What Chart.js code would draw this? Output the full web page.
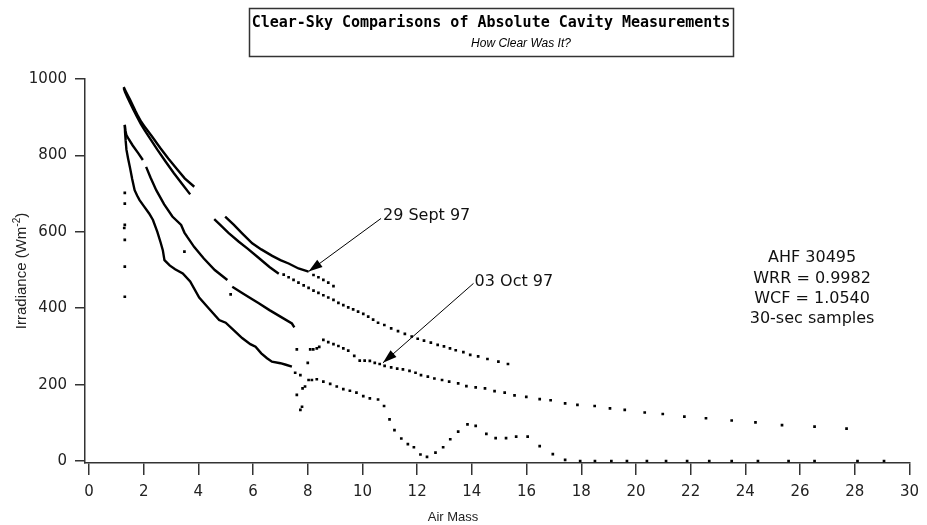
<!DOCTYPE html>
<html><head><meta charset="utf-8">
<script src="https://cdn.jsdelivr.net/npm/chart.js@4.4.0/dist/chart.umd.min.js"></script>
<style>html,body{margin:0;padding:0;background:#fff}#wrap{width:927px;height:525px;position:relative}</style>
</head><body><div id="wrap"><canvas id="c" width="927" height="525"></canvas></div>
<script>
// ---------- tick values ----------
const xTickValues = [0,2,4,6,8,10,12,14,16,18,20,22,24,26,28,30];
const yTickValues = [0,200,400,600,800,1000];

// ---------- 29 Sept 97, run A (upper line) ----------
const sep29A_lineX = [1.27,1.33,1.4,1.5,1.6,1.7,1.8,1.91,2.03,2.3,2.6,2.9,3.2,3.5,3.85, 3.85, 4.98,5.3,5.6,5.97,6.3,6.7,7.0,7.3,7.66,8.03];
const sep29A_lineY = [979,970,960,946,931,916,902,888,876,850,820,792,766,740,718, null, 640,618,596,570,554,537,526,517,504,496];
const sep29A_dotX = [8.21,8.39,8.57,8.75,8.94];
const sep29A_dotY = [487,481,474,467,458];

// ---------- 29 Sept 97, run B ----------
const sep29B_lineX = [1.27,1.32,1.4,1.5,1.62,1.75,1.9,2.05,2.2,2.5,2.8,3.1,3.4,3.7, 3.7, 4.58,4.8,5.1,5.48,5.8,6.2,6.6,6.94];
const sep29B_lineY = [976,966,953,938,920,902,882,864,848,815,784,754,726,698, null, 633,618,597,574,556,532,508,490];
const sep29B_dotX = [7.12,7.3,7.48,7.66,7.85,8.03,8.21,8.39,8.57,8.75,8.94,9.12,9.3,9.48,9.66,9.84,10.03,10.21,10.39,10.57,10.8,11.05,11.3,11.55,11.8,12.02,12.25,12.5,12.75,12.98,13.2,13.41,13.69,13.94,14.23,14.57,14.97,15.32];
const sep29B_dotY = [488,481,474,467,460,453,446,440,434,428,422,414,408,402,397,391,385,378,370,362,356,347,340,333,326,320,315,310,304,300,295,290,285,278,274,267,260,254];

// ---------- 03 Oct 97, run A (upper of the pair) ----------
const oct03A_lineX = [1.31,1.33,1.37,1.45,1.6,1.8,1.97, 1.97, 2.09,2.25,2.46,2.75,3.05,3.37,3.49,3.6,3.85,4.2,4.6,5.06, 5.06, 5.24,5.6,6.0,6.21,6.6,7.0,7.42,7.51];
const oct03A_lineY = [880,866,853,843,826,806,788, null, 770,742,709,672,640,618,598,586,560,530,500,474, null, 456,440,422,413,395,378,360,350];
const oct03A_dotX = [7.6,8.0,8.09,8.2,8.33,8.42,8.57,8.75,8.94,9.12,9.3,9.48,9.7,9.9,10.08,10.27,10.45,10.63,10.81,11.05,11.27,11.48,11.72,11.94,12.14,12.39,12.63,12.91,13.17,13.5,13.8,14.14,14.48,14.83,15.2,15.56,15.99,16.48,16.88,17.41,17.86,18.49,19.05,19.59,20.32,20.98,21.77,22.56,23.5,24.37,25.34,26.53,27.7];
const oct03A_dotY = [292,257,292,292,295,299,317,311,306,301,295,289,275,263,263,262,257,254,249,245,242,240,236,231,225,221,216,212,208,203,196,193,190,183,179,172,168,162,159,151,147,144,138,134,127,123,116,112,106,101,94,90,85];

// ---------- 03 Oct 97, run B (lower of the pair) ----------
const oct03B_lineX = [1.31,1.32,1.34,1.37,1.43,1.5,1.58,1.67,1.76,1.85,2.0,2.2,2.34,2.5,2.62,2.7,2.76,2.95,3.15,3.43,3.7,4.03,4.4,4.76,5.0,5.3,5.6,5.9,6.09,6.3,6.51,6.69,7.0,7.2,7.42];
const oct03B_lineY = [880,860,840,815,792,768,738,709,695,683,668,648,631,600,572,552,526,512,502,491,470,428,398,369,362,342,322,306,299,282,269,260,256,252,247];
const oct03B_dotX = [7.54,7.6,7.73,7.73,7.79,7.81,7.9,8.03,8.15,8.33,8.57,8.82,9.06,9.3,9.54,9.78,10.03,10.27,10.57,10.79,10.99,11.17,11.42,11.66,11.88,12.12,12.36,12.67,12.95,13.21,13.5,13.84,14.14,14.53,14.87,15.25,15.62,16.04,16.48,16.96,17.41,17.96,18.5,19.1,19.67,20.4,21.1,21.87,22.68,23.5,24.46,25.58,26.53,28.1,29.07];
const oct03B_dotY = [231,173,225,134,142,190,195,212,212,214,208,202,195,188,184,179,170,164,161,144,109,81,59,44,36,17,11,22,36,57,77,96,92,71,60,60,64,64,39,18,3,0,0,0,0,0,0,0,0,0,0,0,0,0,0];

// ---------- stray samples ----------
const strayX = [1.31,1.31,1.31,1.29,1.31,1.31,1.31,3.49,5.18];
const strayY = [702,674,618,610,579,509,430,548,436];

// ---------- text ----------
const titleMain = 'Clear-Sky Comparisons of Absolute Cavity Measurements';
const titleSub = 'How Clear Was It?';
const xAxisTitle = 'Air Mass';
const yAxisTitle = 'Irradiance (Wm';
const yAxisTitleSup = '-2';
const infoLines = ['AHF 30495','WRR = 0.9982','WCF = 1.0540','30-sec samples'];
const labelSep = '29 Sept 97';
const labelOct = '03 Oct 97';

function pts(xs, ys){ return xs.map((x,i)=>({x:x, y:ys[i]})); }
function lineDs(xs, ys){ return {data:pts(xs,ys), showLine:true, spanGaps:false, borderColor:'#000', borderWidth:2.4, pointRadius:0, tension:0}; }
function dotDs(xs, ys){ return {data:pts(xs,ys), showLine:false, pointStyle:'rect', pointRadius:1.9, pointBorderWidth:0, backgroundColor:'#000', borderColor:'#000'}; }

const annot = {
  id:'annot',
  afterDatasetsDraw(chart){
    const c = chart.ctx, xs = chart.scales.x, ys = chart.scales.y;
    const X = v=>xs.getPixelForValue(v), Y = v=>ys.getPixelForValue(v);
    c.save();
    // title box
    c.strokeStyle = '#333'; c.lineWidth = 1.5;
    c.strokeRect(249.5, 8.5, 484, 48);
    c.fillStyle = '#000'; c.textAlign = 'center'; c.textBaseline = 'middle';
    c.font = 'bold 15px "DejaVu Sans Mono"';
    c.fillText(titleMain, 491, 23);
    c.font = 'italic 12px "Liberation Sans"';
    c.fillText(titleSub, 521, 44);
    // arrows
    function arrow(x1,y1,x2,y2){
      c.strokeStyle = '#000'; c.lineWidth = 1;
      c.beginPath(); c.moveTo(x1,y1); c.lineTo(x2,y2); c.stroke();
      const a = Math.atan2(y2-y1, x2-x1), L = 14, W = 4.5;
      c.beginPath(); c.moveTo(x2,y2);
      c.lineTo(x2 - L*Math.cos(a) + W*Math.sin(a), y2 - L*Math.sin(a) - W*Math.cos(a));
      c.lineTo(x2 - L*Math.cos(a) - W*Math.sin(a), y2 - L*Math.sin(a) + W*Math.cos(a));
      c.closePath(); c.fill();
    }
    arrow(X(10.68), Y(635), X(8.03), Y(496));
    arrow(X(14.06), Y(465), X(10.75), Y(257));
    c.font = '16px "DejaVu Sans"'; c.textAlign = 'left'; c.fillStyle = '#111';
    c.fillText(labelSep, X(10.75), Y(642));
    c.fillText(labelOct, X(14.1), Y(468));
    // info block
    c.textAlign = 'center'; c.font = '16px "DejaVu Sans"';
    const iy = [531,476,424,372];
    infoLines.forEach((t,i)=>c.fillText(t, X(26.44), Y(iy[i])));
    // axis titles
    c.fillStyle = '#222';
    c.font = '13px "Liberation Sans"';
    c.fillText(xAxisTitle, X(13.31), 517);
    c.save();
    c.translate(22, (chart.chartArea.top + chart.chartArea.bottom)/2);
    c.rotate(-Math.PI/2);
    c.textAlign = 'left';
    c.font = '15px "Liberation Sans"';
    const w1 = c.measureText(yAxisTitle).width;
    c.font = '10px "Liberation Sans"';
    const w2 = c.measureText(yAxisTitleSup).width;
    c.font = '15px "Liberation Sans"';
    const w3 = c.measureText(')').width;
    const start = -(w1+w2+w3)/2;
    c.fillText(yAxisTitle, start, 0);
    c.font = '10px "Liberation Sans"';
    c.fillText(yAxisTitleSup, start + w1, -5);
    c.font = '15px "Liberation Sans"';
    c.fillText(')', start + w1 + w2, 0);
    c.restore();
    c.restore();
  }
};

new Chart(document.getElementById('c').getContext('2d'), {
  type:'scatter',
  data:{datasets:[
    lineDs(sep29A_lineX, sep29A_lineY), dotDs(sep29A_dotX, sep29A_dotY),
    lineDs(sep29B_lineX, sep29B_lineY), dotDs(sep29B_dotX, sep29B_dotY),
    lineDs(oct03A_lineX, oct03A_lineY), dotDs(oct03A_dotX, oct03A_dotY),
    lineDs(oct03B_lineX, oct03B_lineY), dotDs(oct03B_dotX, oct03B_dotY),
    dotDs(strayX, strayY)
  ]},
  options:{
    responsive:false, animation:false, devicePixelRatio:1,
    layout:{padding:{top:79,right:12,left:0,bottom:0}},
    plugins:{legend:{display:false}, tooltip:{enabled:false}, title:{display:false}},
    scales:{
      x:{type:'linear', min:-0.145, max:30,
        afterBuildTicks:s=>{s.ticks = xTickValues.map(v=>({value:v}));},
        afterFit:s=>{s.height = 62;},
        grid:{display:true, drawOnChartArea:false, drawTicks:true, tickLength:12, color:'#333', lineWidth:1.5},
        border:{display:true, color:'#333', width:1.5},
        ticks:{font:{family:'DejaVu Sans', size:15}, color:'#222', padding:8, maxRotation:0, autoSkip:false, callback:v=>String(v)}
      },
      y:{type:'linear', min:-5.2, max:1000,
        afterBuildTicks:s=>{s.ticks = yTickValues.map(v=>({value:v}));},
        afterFit:s=>{s.width = 85;},
        grid:{display:true, drawOnChartArea:false, drawTicks:true, tickLength:10, color:'#333', lineWidth:1.5},
        border:{display:true, color:'#333', width:1.5},
        ticks:{font:{family:'DejaVu Sans', size:15}, color:'#222', padding:8, autoSkip:false, callback:v=>String(v)}
      }
    }
  },
  plugins:[annot]
});
</script></body></html>
